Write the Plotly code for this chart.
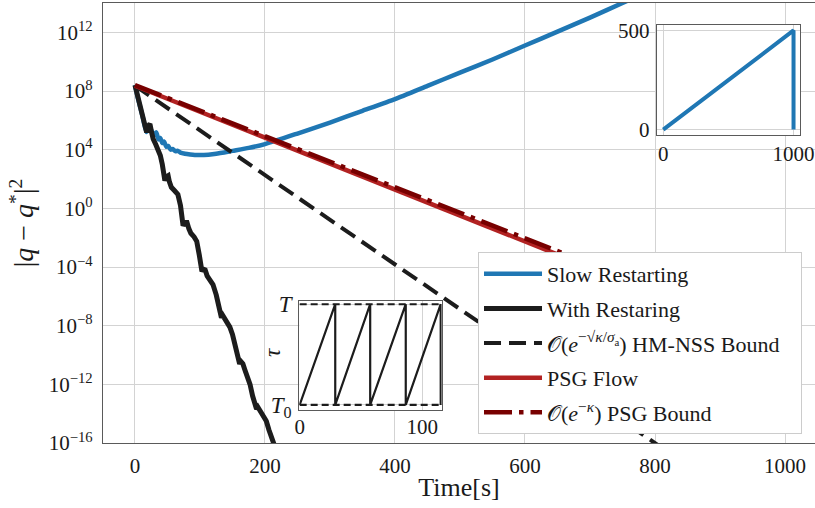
import plotly.graph_objects as go

# ---------------- data ----------------
# With restarting (black solid): time [s], log10 |q-q*|^2
restart_t = [0, 4, 8, 12, 15, 18, 20, 23, 25, 28, 32, 36, 39, 42, 46, 48, 51, 53, 56, 61, 66, 70,
             74, 77, 80, 83, 86, 91, 95, 99, 103, 105, 108, 111, 115, 120, 125, 129, 133, 135, 138,
             141, 146, 150, 155, 161, 163, 166, 169, 173, 177, 181, 187, 189, 192, 196, 202, 206,
             213, 218]
restart_log10 = [8.40, 7.6, 6.9, 6.2, 5.6, 5.18, 5.6, 5.75, 5.3, 4.73, 4.35, 4.0, 3.6, 3.0, 1.89,
                 2.15, 2.23, 1.8, 1.43, 1.2, 0.95, 0.2, -1.18, -0.95, -0.96, -1.4, -1.7, -1.95,
                 -2.25, -3.2, -4.3, -4.15, -4.2, -4.6, -4.85, -5.2, -5.9, -6.7, -7.45, -7.3, -7.5,
                 -7.85, -8.1, -8.6, -9.4, -10.6, -10.45, -10.6, -11.0, -11.4, -12.0, -12.8, -13.68,
                 -13.55, -13.8, -14.1, -14.5, -15.1, -15.95, -16.6]

# Slow restarting (blue)
slow_t = [0, 4, 8, 12, 15, 18, 22, 26, 30, 33, 36, 39, 42, 45, 48, 51, 55, 58, 62, 66, 70, 77,
          85, 92, 100, 113, 125, 150, 175, 200, 250, 300, 350, 400, 450, 500, 550, 600, 650, 700,
          750, 780]
slow_log10 = [8.40, 7.6, 6.9, 6.2, 5.6, 5.2, 5.5, 5.25, 5.0, 5.18, 4.7, 4.8, 4.45, 4.55, 4.2, 4.25,
              4.0, 4.05, 3.9, 3.92, 3.8, 3.72, 3.67, 3.64, 3.63, 3.66, 3.72, 3.92, 4.12, 4.38, 5.1,
              5.85, 6.65, 7.45, 8.35, 9.25, 10.15, 11.1, 12.05, 13.0, 14.0, 14.6]

# HM-NSS bound (black dashed)
hm_t = [0, 1000]
hm_log10 = [8.36, -22.1]

# PSG flow (red) and PSG bound (dark red, dash-dot)
psg_t = [0, 1000]
psg_log10 = [8.36, -9.34]
psgb_t = [0, 1000]
psgb_log10 = [8.40, -9.0]

# inset 1 (top right)
in1_x = [0, 1000, 1000]
in1_y = [0, 500, 0]

# inset 2 (sawtooth of tau between T0 (=0) and T (=1))
in2_x = [0, 29, 29, 57.5, 57.5, 86.5, 86.5, 115, 115]
in2_y = [0, 1, 0, 1, 0, 1, 0, 1, 0]
in2_lim_x = [0, 115]

ytick_exp = [-16, -12, -8, -4, 0, 4, 8, 12]
xticks = [0, 200, 400, 600, 800, 1000]

# ---------------- styling ----------------
FONT = "'Liberation Serif', 'DejaVu Serif', serif"
BLUE = "#1f77b4"
BLACK = "#1c1c1c"
RED = "#b22222"
DRED = "#780000"
GRID = "#d3d3d3"
SPINE = "#5a5a5a"


def pw(v):
    return [10 ** e for e in v]


fig = go.Figure()
fig.add_trace(go.Scatter(x=slow_t, y=pw(slow_log10), mode="lines", name="Slow Restarting",
                         line=dict(color=BLUE, width=4.5, shape="spline", smoothing=0.5),
                         legendgroup="a"))
fig.add_trace(go.Scatter(x=restart_t, y=pw(restart_log10), mode="lines", name="With Restaring",
                         line=dict(color=BLACK, width=5), legendgroup="b"))
fig.add_trace(go.Scatter(x=hm_t, y=pw(hm_log10), mode="lines",
                         name="𝒪(<i>e</i><sup>−√<i>κ</i>/<i>σ</i><sub>a</sub></sup>) HM-NSS Bound\u00a0\u00a0\u00a0",
                         line=dict(color=BLACK, width=4, dash="17px,8px"), legendgroup="c"))
fig.add_trace(go.Scatter(x=psg_t, y=pw(psg_log10), mode="lines", name="PSG Flow",
                         line=dict(color=RED, width=4.5), legendgroup="d"))
fig.add_trace(go.Scatter(x=psgb_t, y=pw(psgb_log10), mode="lines",
                         name="𝒪(<i>e</i><sup>−<i>κ</i></sup>) PSG Bound",
                         line=dict(color=DRED, width=4.5, dash="28px,7px,4.5px,7px"), legendgroup="e"))

# inset 1
fig.add_trace(go.Scatter(x=in1_x, y=in1_y, mode="lines", line=dict(color=BLUE, width=4),
                         xaxis="x2", yaxis="y2", showlegend=False))
# inset 2
fig.add_trace(go.Scatter(x=in2_x, y=in2_y, mode="lines", line=dict(color=BLACK, width=2.2),
                         xaxis="x3", yaxis="y3", showlegend=False))
fig.add_trace(go.Scatter(x=in2_lim_x, y=[1, 1], mode="lines",
                         line=dict(color=BLACK, width=2.2, dash="7px,4px"),
                         xaxis="x3", yaxis="y3", showlegend=False))
fig.add_trace(go.Scatter(x=in2_lim_x, y=[0, 0], mode="lines",
                         line=dict(color=BLACK, width=2.2, dash="7px,4px"),
                         xaxis="x3", yaxis="y3", showlegend=False))

tickfont = dict(family=FONT, size=21, color="#1a1a1a")

fig.update_layout(
    width=815, height=508,
    margin=dict(l=103, r=0, t=3, b=65, autoexpand=False),
    paper_bgcolor="white", plot_bgcolor="white",
    font=dict(family=FONT, color="#1a1a1a"),
    xaxis=dict(domain=[0, 1], range=[-49.2, 1046.15], tickvals=xticks,
               ticktext=[str(v) for v in xticks], tickfont=tickfont, automargin=False,
               showgrid=True, gridcolor=GRID, gridwidth=1, zeroline=False,
               showline=True, linecolor=SPINE, linewidth=1.2, mirror=True, ticks="",
               ticklabelstandoff=4,
               title=dict(text="Time[s]", font=dict(family=FONT, size=26), standoff=0)),
    yaxis=dict(type="log", range=[-16, 14], tickvals=[10 ** e for e in ytick_exp],
               ticktext=["10<sup>%s</sup>" % (str(e).replace("-", "−")) for e in ytick_exp],
               tickfont=tickfont, showgrid=True, gridcolor=GRID, gridwidth=1, zeroline=False,
               showline=True, linecolor=SPINE, linewidth=1.2, ticks="", ticklabelstandoff=5,
               automargin=False,
               title=dict(text="|<i>q</i> − <i>q</i><sup>*</sup>|<sup>2</sup>",
                          font=dict(family=FONT, size=28), standoff=6)),
    xaxis2=dict(domain=[0.7777, 0.979], anchor="y2", range=[-50, 1050], tickvals=[0, 1000],
                tickfont=tickfont, showgrid=True, gridcolor=GRID, zeroline=False,
                showline=True, linecolor=SPINE, linewidth=1.2, mirror=True, ticks="",
                ticklabelstandoff=0, automargin=False),
    yaxis2=dict(domain=[0.70, 0.95], anchor="x2", range=[-27.5, 527.5], tickvals=[0, 500],
                tickfont=tickfont, showgrid=True, gridcolor=GRID, zeroline=False,
                showline=True, linecolor=SPINE, linewidth=1.2, mirror=True, ticks="",
                ticklabelstandoff=2, automargin=False),
    xaxis3=dict(domain=[0.2757, 0.4757], anchor="y3", range=[-0.3, 115.8], tickvals=[0, 100],
                tickfont=tickfont, showgrid=True, gridcolor=GRID, zeroline=False,
                showline=True, linecolor=SPINE, linewidth=1.2, mirror=True, ticks="",
                ticklabelstandoff=-2, automargin=False),
    yaxis3=dict(domain=[0.075, 0.3234], anchor="x3", range=[-0.05, 1.035], tickvals=[0, 1],
                ticktext=["<i>T</i><sub>0</sub>", "<i>T</i>"],
                tickfont=dict(family=FONT, size=23, color="#1a1a1a"),
                showgrid=True, gridcolor=GRID, zeroline=False,
                showline=True, linecolor=SPINE, linewidth=1.2, mirror=True, ticks="",
                ticklabelstandoff=2, automargin=False),
    annotations=[dict(text="<i>τ</i>", xref="paper", yref="paper", x=0.2374, y=0.2045,
                      xanchor="center", yanchor="middle", showarrow=False, textangle=-90,
                      font=dict(family=FONT, size=23, color="#1a1a1a"))],
    legend=dict(x=0.5267, y=0.434, xanchor="left", yanchor="top",
                bgcolor="rgba(255,255,255,1)", bordercolor="#cccccc", borderwidth=1,
                font=dict(family=FONT, size=22, color="#1a1a1a"), tracegroupgap=3,
                itemwidth=58),
    showlegend=True,
)

fig.write_html("out.html", config={"displayModeBar": False},
               post_script="document.body.style.margin='0';document.body.style.padding='0';"
                           "document.body.style.overflow='hidden';")
